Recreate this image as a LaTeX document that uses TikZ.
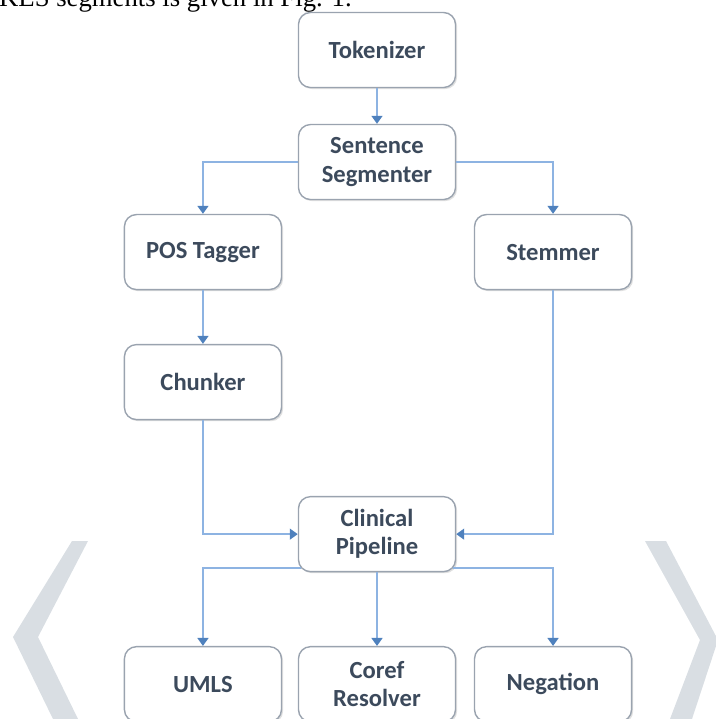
\documentclass[tikz,border=0pt]{standalone}
\usepackage{fontspec}
\setmainfont{Liberation Serif}
\newfontfamily\boxfont{Carlito}
\usepackage{tikz}
\usetikzlibrary{shapes,shadows,arrows.meta}
\definecolor{lineblue}{HTML}{8DB3E2}
\definecolor{tipblue}{HTML}{4F81BD}
\definecolor{boxgray}{HTML}{9AA3AF}
\definecolor{textgray}{HTML}{3C4A5C}
\definecolor{markgray}{HTML}{D9DEE3}
\tikzstyle{stage} = [rectangle, rounded corners=0.3cm, minimum width=3.925cm,
minimum height=1.875cm, text centered, align=center, draw=boxgray, line width=0.035cm,
fill=white, text=textgray, font=\boxfont\bfseries\fontsize{17.5}{20}\selectfont,
drop shadow={opacity=0.25, shadow xshift=0.04cm, shadow yshift=-0.04cm}]
\tikzstyle{pipeArrow} = [lineblue, line width=0.05cm, -{Triangle[width=0.27cm,length=0.2cm,color=tipblue]}]

\begin{document}
\begin{tikzpicture}[x=0.025cm, y=-0.025cm, node distance=2.8cm]
		\useasboundingbox (0,0) rectangle (716,719);
		%side marks
		\fill[markgray] (72,541)--(88,541)--(38,637)--(78,719)--(53,719)--(13,637)--cycle;
		\fill[markgray] (645,541)--(666,541)--(718,640)--(692,719)--(670,719)--(700,640)--cycle;
		%text line above
		\node[anchor=base east, inner sep=0pt, font=\fontsize{19}{22}\selectfont](caption) at (352,6){KES segments is given in Fig. 1.};
		
		%blocks
		\node[stage](tok) at (377,50){Tokenizer};
		\node[stage, below of=tok](seg){Sentence\\Segmenter};
		\node[stage, below of=seg, xshift=-4.35cm, yshift=0.55cm](pos){POS Tagger};
		\node[stage, right of=pos, xshift=5.95cm](stem){Stemmer};
		\node[stage, below of=pos, yshift=-0.45cm](chunk){Chunker};
		\node[stage, below of=chunk, xshift=4.35cm, yshift=-1cm](clin){Clinical\\Pipeline};
		\node[stage, below of=clin, yshift=-0.95cm](coref){Coref\\Resolver};
		\node[stage, left of=coref, xshift=-1.55cm](umls){UMLS};
		\node[stage, right of=coref, xshift=1.6cm](neg){Negation};
		
		%arrows
		\draw[pipeArrow](tok)--(seg);
		\draw[pipeArrow](seg.west)-|(pos.north);
		\draw[pipeArrow](seg.east)-|(stem.north);
		\draw[pipeArrow](pos)--(chunk);
		\draw[pipeArrow](chunk.south)|-(clin.west);
		\draw[pipeArrow](stem.south)|-(clin.east);
		\draw[pipeArrow]([xshift=0.08cm,yshift=0.1cm]clin.south west)-|(umls.north);
		\draw[pipeArrow](clin)--(coref);
		\draw[pipeArrow]([xshift=-0.08cm,yshift=0.1cm]clin.south east)-|(neg.north);
	\end{tikzpicture}
\end{document}
